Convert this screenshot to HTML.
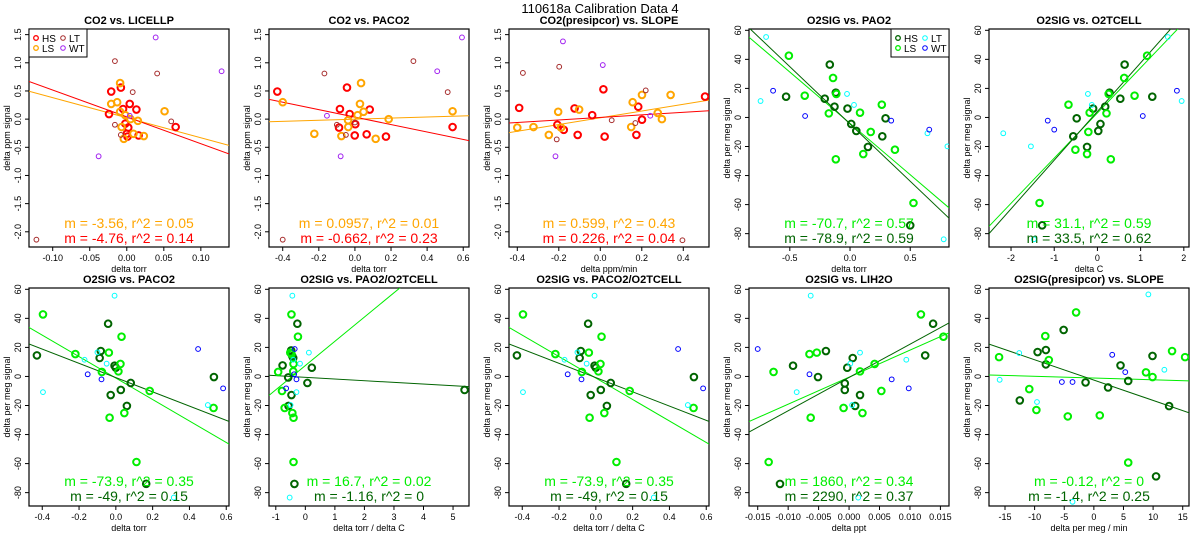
<!DOCTYPE html>
<html><head><meta charset="utf-8"><style>
html,body{margin:0;padding:0;background:#fff;}
svg{display:block;font-family:"Liberation Sans",sans-serif;}
</style></head><body>
<svg id="chart" width="1200" height="550" viewBox="0 0 1200 550">
<text x="600" y="13" text-anchor="middle" font-size="13">110618a   Calibration Data 4</text>
</svg>
<script>
// ---- data ----
const p1HS=[[-0.021,0.49],[-0.008,0.56],[-0.024,0.09],[-0.005,0.18],[0.004,0.27],[0.013,0.17],[-0.002,-0.08],[0.002,-0.15],[0.0,-0.26],[0.001,-0.31],[0.016,-0.29],[0.066,-0.14]];
const p1LS=[[-0.009,0.64],[-0.021,0.27],[-0.013,0.30],[-0.009,0.13],[-0.002,0.07],[0.005,0.0],[0.015,-0.03],[-0.007,-0.14],[0.009,-0.26],[0.023,-0.30],[-0.004,-0.35],[0.051,0.14]];
const p1LT=[[-0.016,1.03],[0.041,0.81],[0.008,0.48],[-0.016,-0.10],[-0.008,-0.28],[0.060,-0.04],[-0.122,-2.14]];
const p1WT=[[0.039,1.45],[0.128,0.85],[-0.038,-0.66],[0.004,0.06]];
const p2HS=[[-0.43,0.49],[-0.044,0.56],[-0.083,0.18],[-0.029,0.09],[0.002,-0.09],[-0.088,-0.15],[-0.001,-0.29],[0.065,-0.27],[0.082,0.17],[0.172,-0.31],[0.541,-0.14]];
const p2LS=[[-0.4,0.30],[-0.225,-0.26],[0.034,0.64],[0.028,0.27],[0.048,0.13],[0.015,0.07],[-0.038,-0.02],[-0.037,-0.14],[-0.075,-0.30],[0.115,-0.35],[0.187,0.0],[0.541,0.14]];
const p2LT=[[-0.169,0.81],[0.324,1.03],[0.514,0.48],[-0.40,-2.14],[-0.10,-0.10],[-0.05,-0.28],[0.0,-0.06]];
const p2WT=[[0.593,1.45],[0.456,0.85],[-0.155,0.06],[-0.079,-0.66]];
const p3HS=[[-0.391,0.20],[-0.207,-0.10],[-0.176,-0.19],[-0.124,0.19],[-0.109,-0.28],[-0.039,0.07],[0.015,0.53],[0.021,-0.31],[0.183,0.22],[0.201,-0.01],[0.174,-0.28],[0.505,0.40]];
const p3LS=[[-0.40,-0.15],[-0.322,-0.14],[-0.248,-0.28],[-0.203,0.13],[-0.189,-0.15],[-0.102,0.17],[0.156,0.30],[0.149,-0.14],[0.201,0.43],[0.277,0.11],[0.339,0.43],[0.297,0.0]];
const p3LT=[[-0.373,0.82],[-0.198,0.93],[0.219,0.51],[0.055,-0.02],[0.169,-0.07],[-0.21,-0.36],[0.396,-2.15]];
const p3WT=[[-0.18,1.38],[0.012,0.96],[-0.216,-0.66],[0.241,0.06]];
const p4HS=[[-0.531,14.3],[-0.210,12.9],[-0.168,36.4],[-0.118,17.1],[-0.129,7.4],[-0.021,6.1],[0.010,-4.5],[0.052,-9.3],[0.149,-20.3],[0.268,-13.0],[0.295,-0.6],[0.50,-74.3]];
const p4LS=[[-0.508,42.5],[-0.376,15.0],[-0.141,27.2],[-0.114,16.2],[-0.176,2.8],[0.083,3.3],[0.172,-10.0],[0.264,8.8],[0.110,-25.2],[-0.118,-28.8],[0.373,-22.2],[0.527,-58.9]];
const p4LT=[[-0.697,55.4],[-0.743,11.3],[-0.025,16.2],[0.033,8.6],[0.643,-10.9],[0.809,-19.9],[0.778,-83.9]];
const p4WT=[[-0.639,18.4],[-0.373,1.0],[0.342,-2.2],[0.658,-8.4]];
const p5HS=[[-1.28,-74.3],[-0.56,-13],[-0.48,-0.6],[-0.24,-20.3],[-0.10,6.1],[0.02,-9.3],[0.07,-4.5],[0.18,7.4],[0.28,17.1],[0.53,12.9],[0.63,36.4],[1.27,14.3]];
const p5LS=[[-1.34,-58.9],[-0.67,8.8],[-0.51,-22.2],[-0.24,-25.2],[-0.21,-10],[-0.18,3.3],[0.21,2.8],[0.26,16.2],[0.31,-28.8],[0.62,27.2],[0.86,15],[1.15,42.5]];
const p5LT=[[-2.18,-10.9],[-1.54,-19.9],[-1.47,-83.9],[-0.22,16.2],[-0.13,8.6],[1.63,55.4],[1.95,11.3]];
const p5WT=[[-1.15,-2.2],[-1.0,-8.4],[1.05,1.0],[1.84,18.4]];
const p6HS=[[-0.429,14.5],[-0.088,12.7],[-0.082,17.5],[-0.042,36.3],[-0.007,7.4],[0,6.0],[-0.028,-12.8],[0.027,-9.3],[0.060,-20.3],[0.081,-4.5],[0.165,-73.9],[0.533,-0.4]];
const p6LS=[[-0.396,42.7],[-0.22,15.4],[-0.038,16.4],[0.031,27.4],[-0.076,3.1],[0.014,3.5],[0.025,8.6],[0.184,-10],[0.046,-25.2],[-0.034,-28.4],[0.112,-58.9],[0.531,-21.7]];
const p6LT=[[-0.007,55.6],[-0.396,-10.8],[-0.17,11.5],[-0.1,16.6],[-0.05,8.8],[0.5,-19.7],[0.315,-83.4]];
const p6WT=[[-0.153,1.5],[-0.078,-2.0],[0.447,18.9],[0.583,-8.2]];
const p7HS=[[5.39,-9.3],[-0.27,36.3],[-0.77,7.6],[-0.58,-0.7],[-0.48,17.9],[-0.44,14],[-0.47,-12.8],[-0.57,-20.3],[-0.37,-74],[0.07,-4.5],[0.22,6.0],[-0.41,12.7]];
const p7LS=[[-0.47,42.7],[-0.25,27.4],[-0.92,3.1],[-0.79,-10],[-0.70,-21.7],[-0.44,-25.2],[-0.40,-28.4],[-0.40,-58.9],[-0.51,16.4],[-0.47,15.4],[-0.40,8.6],[-0.41,3.5]];
const p7LT=[[-0.44,55.6],[-0.53,-83.4],[-0.30,-10.8],[-0.18,8.8],[0.12,16.4],[-0.41,11.5],[-0.50,-19.7]];
const p7WT=[[-0.65,-8.2],[-0.36,18.9],[-0.38,1.5],[-0.30,-2]];
const p9HS=[[-0.01134,-74],[-0.0092,7.4],[-0.0051,-0.4],[-0.0038,17.5],[-0.0007,-4.8],[-0.0007,-9.3],[-0.0003,6],[0.0006,12.7],[0.001,-20.3],[0.0018,-12.8],[0.0125,14.5],[0.0138,36.3]];
const p9LS=[[-0.0132,-58.9],[-0.0124,3.1],[-0.0065,15.4],[-0.0053,16.4],[-0.0063,-28.4],[-0.0009,-21.7],[0.0018,3.5],[0.0022,-25.2],[0.0042,8.6],[0.0053,-10],[0.0118,42.7],[0.0155,27.4]];
const p9LT=[[-0.0063,55.6],[-0.0086,-10.8],[0.0005,-19.7],[0.0002,8.8],[0.0018,16.4],[0.0094,11.5],[0.0015,-83.4]];
const p9WT=[[-0.015,18.9],[-0.0065,1.5],[0.007,-2],[0.0098,-8.2]];
const p10HS=[[-12.5,-16.5],[-9.5,16.8],[-8.1,18.2],[-8.1,8.3],[-5.1,32],[-1.4,-4.1],[2.4,-7.6],[4.5,7.6],[5.8,-3.1],[9.9,14.1],[10.5,-68.8],[12.7,-20.4]];
const p10LS=[[-16,13.3],[-10.9,-8.7],[-9.7,-23.1],[-8.2,27.8],[-7.6,11.3],[-4.4,-27.5],[-3,44.1],[1,-26.8],[5.8,-59.3],[8.8,2.8],[9.9,-0.4],[13.2,17.5],[15.4,13.3]];
const p10LT=[[-15.9,-2.3],[-12.6,16.1],[-9.6,-17.6],[-3.6,-86.3],[9.2,56.5],[11.9,4.6]];
const p10WT=[[-5.4,-3.8],[-3.6,-3.8],[3.1,14.9],[5.3,3.0]];
// fit lines: [slope, intercept] for HS and LS
const fitHS=[[-4.76,0.04],[-0.662,0.036],[0.226,0.03],[-78.9,-4.5],[33.5,4.1],[-49,-0.8],[-1.16,-0.6],[-49,-0.8],[2290,-0.7],[-1.4,-2.5]];
const fitLS=[[-3.56,0.025],[0.0957,0.0],[0.599,0.024],[-70.7,-4.1],[31.1,3.1],[-73.9,-1.1],[16.7,7.5],[-73.9,-1.1],[1860,-0.5],[-0.12,-1.1]];
const labelsHS=["m = -4.76, r^2 = 0.14","m = -0.662, r^2 = 0.23","m = 0.226, r^2 = 0.04","m = -78.9, r^2 = 0.59","m = 33.5, r^2 = 0.62","m = -49, r^2 = 0.15","m = -1.16, r^2 = 0","m = -49, r^2 = 0.15","m = 2290, r^2 = 0.37","m = -1.4, r^2 = 0.25"];
const labelsLS=["m = -3.56, r^2 = 0.05","m = 0.0957, r^2 = 0.01","m = 0.599, r^2 = 0.43","m = -70.7, r^2 = 0.57","m = 31.1, r^2 = 0.59","m = -73.9, r^2 = 0.35","m = 16.7, r^2 = 0.02","m = -73.9, r^2 = 0.35","m = 1860, r^2 = 0.34","m = -0.12, r^2 = 0"];
const titles=["CO2 vs. LICELLP","CO2 vs. PACO2","CO2(presipcor) vs. SLOPE","O2SIG vs. PAO2","O2SIG vs. O2TCELL","O2SIG vs. PACO2","O2SIG vs. PAO2/O2TCELL","O2SIG vs. PACO2/O2TCELL","O2SIG vs. LIH2O","O2SIG(presipcor) vs. SLOPE"];
const xLabels=["delta torr","delta torr","delta ppm/min","delta torr","delta C","delta torr","delta torr / delta C","delta torr / delta C","delta ppt","delta per meg / min"];
const xTicks=[[-0.10,-0.05,0,0.05,0.10],[-0.4,-0.2,0,0.2,0.4,0.6],[-0.4,-0.2,0,0.2,0.4],[-0.5,0,0.5],[-2,-1,0,1,2],[-0.4,-0.2,0,0.2,0.4,0.6],[-1,0,1,2,3,4,5],[-0.4,-0.2,0,0.2,0.4,0.6],[-0.015,-0.010,-0.005,0,0.005,0.010,0.015],[-15,-10,-5,0,5,10,15]];
const xTickText=[["-0.10","-0.05","0.00","0.05","0.10"],["-0.4","-0.2","0.0","0.2","0.4","0.6"],["-0.4","-0.2","0.0","0.2","0.4"],["-0.5","0.0","0.5"],["-2","-1","0","1","2"],["-0.4","-0.2","0.0","0.2","0.4","0.6"],["-1","0","1","2","3","4","5"],["-0.4","-0.2","0.0","0.2","0.4","0.6"],["-0.015","-0.010","-0.005","0.000","0.005","0.010","0.015"],["-15","-10","-5","0","5","10","15"]];
const xLims=[[-0.132,0.138],[-0.476,0.632],[-0.44,0.524],[-0.839,0.822],[-2.51,2.12],[-0.472,0.615],[-1.23,5.54],[-0.472,0.615],[-0.01643,0.01641],[-17.7,16.06]];
const co2Ticks=[1.5,1.0,0.5,0.0,-0.5,-1.0,-1.5,-2.0];
const co2TickText=["1.5","1.0","0.5","0.0","-0.5","-1.0","-1.5","-2.0"];
const o2Ticks=[60,40,20,0,-20,-40,-60,-80];
const o2TickText=["60","40","20","0","-20","-40","-60","-80"];
const co2Lim=[-2.27,1.60], o2Lim=[-89.2,60.9];

const NS="http://www.w3.org/2000/svg";
const svg=document.getElementById('chart');
function mk(tag,attrs,parent,txt){const e=document.createElementNS(NS,tag);for(const k in attrs)e.setAttribute(k,attrs[k]);if(txt!==undefined)e.textContent=txt;(parent||svg).appendChild(e);return e;}
const pts=[[p1HS,p1LS,p1LT,p1WT],[p2HS,p2LS,p2LT,p2WT],[p3HS,p3LS,p3LT,p3WT],[p4HS,p4LS,p4LT,p4WT],[p5HS,p5LS,p5LT,p5WT],[p6HS,p6LS,p6LT,p6WT],[p7HS,p7LS,p7LT,p7WT],[p6HS,p6LS,p6LT,p6WT],[p9HS,p9LS,p9LT,p9WT],[p10HS,p10LS,p10LT,p10WT]];
const groupNames=["hs","ls","lt","wt"];
for(let i=0;i<10;i++){
  const co2=i<3;
  const col=i%5,row=Math.floor(i/5);
  const bx=29+col*240,by=row?288:29,bw=200,bh=218;
  const xl=xLims[i],yl=co2?co2Lim:o2Lim;
  const X=v=>bx+(v-xl[0])/(xl[1]-xl[0])*bw;
  const Y=v=>by+bh-(v-yl[0])/(yl[1]-yl[0])*bh;
  const colors=co2?["#ff0000","#ffa500","#a52a2a","#a020f0"]:["#006400","#00ee00","#00ffff","#0000ff"];
  const g=mk('g',{});
  
  
  const t=mk('text',{x:bx+bw/2,y:by-5,'text-anchor':'middle','font-size':11,'font-weight':'bold'},g,titles[i]);
  
  
  const clipId='clip'+i;
  const cp=mk('clipPath',{id:clipId},g);mk('rect',{x:bx,y:by,width:bw,height:bh},cp);
  // x ticks
  xTicks[i].forEach((v,k)=>{const x=X(v);mk('line',{x1:x,x2:x,y1:by+bh,y2:by+bh+4,stroke:'#000','stroke-width':1},g);
    const tt=mk('text',{x:x,y:by+bh+14,'text-anchor':'middle','font-size':9},g,xTickText[i][k]);
    
    });
  mk('line',{x1:X(xTicks[i][0]),x2:X(xTicks[i][xTicks[i].length-1]),y1:by+bh,y2:by+bh,stroke:'#000'},g);
  const xt=mk('text',{x:bx+bw/2,y:by+bh+25,'text-anchor':'middle','font-size':9},g,xLabels[i]);
  
  
  const yt=co2?co2Ticks:o2Ticks,ytt=co2?co2TickText:o2TickText;
  yt.forEach((v,k)=>{const y=Y(v);mk('line',{x1:bx-4,x2:bx,y1:y,y2:y,stroke:'#000'},g);
    const tl=mk('text',{x:bx-8,y:y,'text-anchor':'middle','font-size':9,transform:`rotate(-90 ${bx-8} ${y})`},g,ytt[k]);
    
    });
  const yy=by+bh/2;
  const ya=mk('text',{x:bx-19,y:yy,'text-anchor':'middle','font-size':9,transform:`rotate(-90 ${bx-19} ${yy})`},g,co2?"delta ppm signal":"delta per meg signal");
  
  
  mk('rect',{x:bx,y:by,width:bw,height:bh,fill:'none',stroke:'#000','stroke-width':1.2},g);
  const pg=mk('g',{'clip-path':`url(#${clipId})`},g);
  // fit lines
  [[fitLS[i],colors[1]],[fitHS[i],colors[0]]].forEach(([f,c],k)=>{
    const ln=mk('line',{x1:X(xl[0]),y1:Y(f[0]*xl[0]+f[1]),x2:X(xl[1]),y2:Y(f[0]*xl[1]+f[1]),stroke:c,'stroke-width':1},pg);
    
    });
  pts[i].forEach((arr,gi)=>{arr.forEach(p=>{
    const thick=gi<2;
    const c=mk('circle',{cx:X(p[0]),cy:Y(p[1]),r:thick?3.3:2.4,fill:'none',stroke:colors[gi],'stroke-width':thick?2:1},pg);
    
    });});
  const ty=row?481:223;
  const l1=mk('text',{x:bx+bw/2,y:ty+5,'text-anchor':'middle','font-size':14,fill:colors[1]},g,labelsLS[i]);
  
  
  const l2=mk('text',{x:bx+bw/2,y:ty+20,'text-anchor':'middle','font-size':14,fill:colors[0]},g,labelsHS[i]);
  
  
  if(i===0||i===3){
    const lx=i===0?bx:bx+bw-58;
    const lg=mk('g',{},g);
    
    
    mk('rect',{x:lx,y:by,width:58,height:28,fill:'#fff',stroke:'#000'},lg);
    ["HS","LS","LT","WT"].forEach((n,k)=>{const ex=lx+7+(k>=2?27:0),ey=by+9+(k%2)*10;
      const thick=k<2;
      mk('circle',{cx:ex,cy:ey,r:2.3,fill:'none',stroke:colors[k],'stroke-width':thick?1.3:1},lg);
      const e=mk('text',{x:ex+6,y:ey+4,'font-size':10},lg,n==="LS"?"LS":n);
      
      });
  }
}
</script>
</body></html>
